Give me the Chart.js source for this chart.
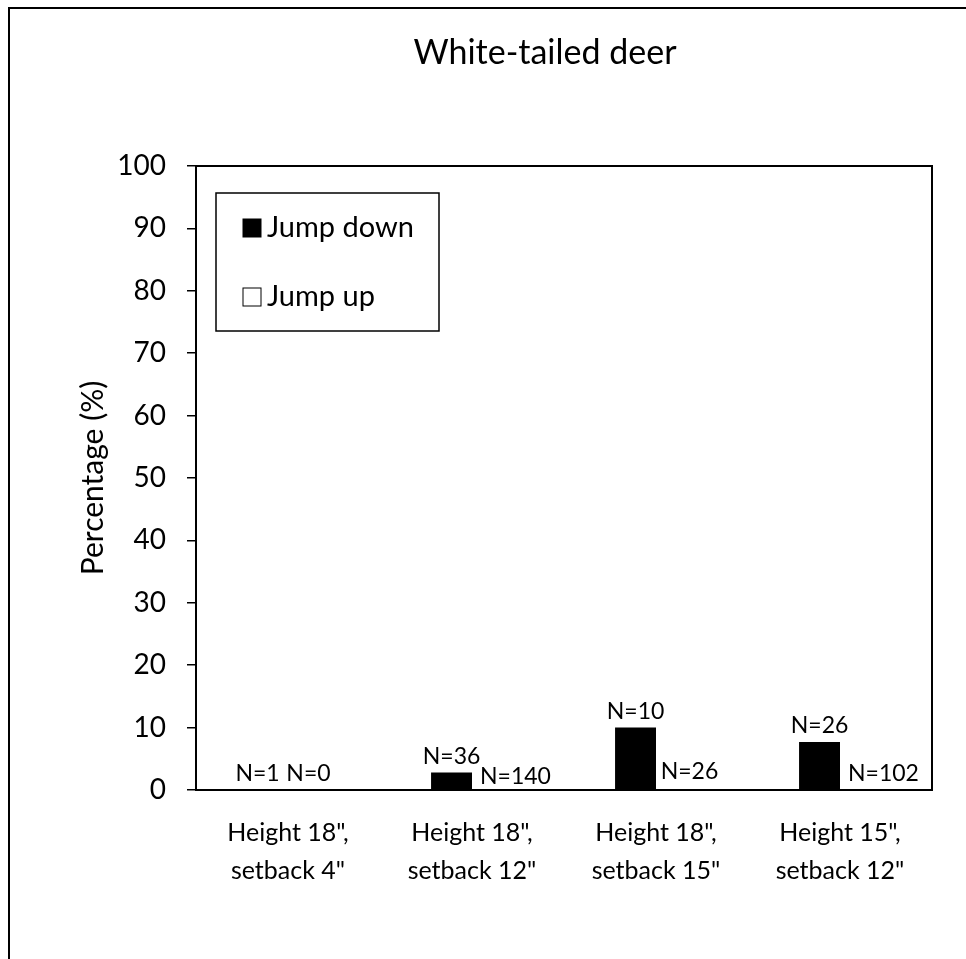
<!DOCTYPE html>
<html>
<head>
<meta charset="utf-8">
<script src="https://cdn.jsdelivr.net/npm/chart.js@4.4.1/dist/chart.umd.min.js"></script>
<style>
  html, body { margin: 0; padding: 0; background: #fff; }
  #wrap { width: 966px; height: 959px; }
</style>
</head>
<body>
<div id="wrap"><canvas id="deerChart" width="966" height="959"></canvas></div>
<script>
// Données
const categories = [
    ['Height 18",', 'setback 4"'],
    ['Height 18",', 'setback 12"'],
    ['Height 18",', 'setback 15"'],
    ['Height 15",', 'setback 12"']
];
const jumpDown = [0, 2.8, 10, 7.7];
const jumpUp = [0, 0, 0, 0];
const nDown = [1, 36, 10, 26];
const nUp = [0, 140, 26, 102];
const yTicks = [0, 10, 20, 30, 40, 50, 60, 70, 80, 90, 100];

const FONT = 'Lato';

// Décalage manuel des étiquettes N= (comme dans l'original)
const labelShift = {
    0: [[-10, 0], [0, 0]],
    1: [[0, 0], [23, 3]],
    2: [[0, 0], [13, -2]],
    3: [[0, 0], [23, 0]]
};

const framePlugin = {
    id: 'frame',
    beforeDraw(chart) {
        const ctx = chart.ctx;
        ctx.save();
        ctx.fillStyle = '#fff';
        ctx.fillRect(0, 0, chart.width, chart.height);
        ctx.strokeStyle = '#000';
        ctx.lineWidth = 2;
        ctx.strokeRect(9, 8, chart.width + 10, chart.height + 10);
        ctx.restore();
    },
    afterDraw(chart) {
        const ctx = chart.ctx;
        const a = chart.chartArea;
        ctx.save();
        ctx.strokeStyle = '#000';
        ctx.lineWidth = 2;
        ctx.beginPath();
        ctx.moveTo(a.left, a.top);
        ctx.lineTo(a.right, a.top);
        ctx.lineTo(a.right, a.bottom);
        ctx.stroke();

        // Titre
        ctx.fillStyle = '#000';
        ctx.font = `34px ${FONT}`;
        ctx.textAlign = 'center';
        ctx.textBaseline = 'alphabetic';
        ctx.fillText('White-tailed deer', 545, 64);

        // Légende
        ctx.lineWidth = 1.5;
        ctx.strokeRect(216, 193, 223, 138);
        ctx.font = `29px ${FONT}`;
        ctx.textAlign = 'left';
        ctx.textBaseline = 'middle';
        chart.data.datasets.forEach((ds, i) => {
            const cy = 228 + i * 69;
            ctx.fillStyle = ds.backgroundColor;
            ctx.fillRect(243, cy - 9, 18, 18);
            ctx.strokeStyle = '#000';
            ctx.lineWidth = 1;
            ctx.strokeRect(243, cy - 9, 18, 18);
            ctx.fillStyle = '#000';
            ctx.fillText(ds.label, 267, cy);
        });

        // Étiquettes N=
        ctx.font = `23px ${FONT}`;
        ctx.textAlign = 'center';
        ctx.textBaseline = 'alphabetic';
        const counts = [nDown, nUp];
        chart.data.datasets.forEach((ds, d) => {
            chart.getDatasetMeta(d).data.forEach((bar, i) => {
                const [dx, dy] = labelShift[i][d];
                ctx.fillText('N=' + counts[d][i], bar.x + dx, bar.y - 9 + dy);
            });
        });
        ctx.restore();
    }
};

const ctx = document.getElementById('deerChart').getContext('2d');
new Chart(ctx, {
    type: 'bar',
    data: {
        labels: categories,
        datasets: [{
            label: 'Jump down',
            data: jumpDown,
            backgroundColor: '#000',
            borderColor: '#000',
            borderWidth: 0
        }, {
            label: 'Jump up',
            data: jumpUp,
            backgroundColor: '#fff',
            borderColor: '#000',
            borderWidth: 0
        }]
    },
    options: {
        responsive: false,
        animation: false,
        devicePixelRatio: 1,
        datasets: {
            bar: {
                categoryPercentage: 0.445,
                barPercentage: 1.0
            }
        },
        layout: {
            padding: { left: 75, right: 34, top: 166, bottom: 0 }
        },
        plugins: {
            legend: { display: false },
            tooltip: { enabled: false },
            title: { display: false }
        },
        scales: {
            x: {
                grid: { display: false },
                border: { display: true, color: '#000', width: 2 },
                ticks: {
                    color: '#000',
                    padding: 16,
                    maxRotation: 0,
                    font: { family: FONT, size: 25, lineHeight: 1.52 }
                },
                afterFit(scale) { scale.height = 169; }
            },
            y: {
                min: 0,
                max: 100,
                afterBuildTicks(scale) {
                    const t = [];
                    for (let v = 0; v <= 100; v += 5) t.push({ value: v });
                    scale.ticks = t;
                },
                grid: {
                    drawOnChartArea: false,
                    drawTicks: true,
                    tickLength: 9,
                    color: '#000',
                    lineWidth: 1.5
                },
                border: { display: true, color: '#000', width: 2 },
                ticks: {
                    color: '#000',
                    padding: 21,
                    font: { family: FONT, size: 28 },
                    callback: (v) => yTicks.includes(v) ? v : ''
                },
                title: {
                    display: true,
                    text: 'Percentage (%)',
                    color: '#000',
                    padding: { top: 0, bottom: 0 },
                    font: { family: FONT, size: 30 }
                },
                afterFit(scale) { scale.width = 121; }
            }
        }
    },
    plugins: [framePlugin]
});
</script>
</body>
</html>
